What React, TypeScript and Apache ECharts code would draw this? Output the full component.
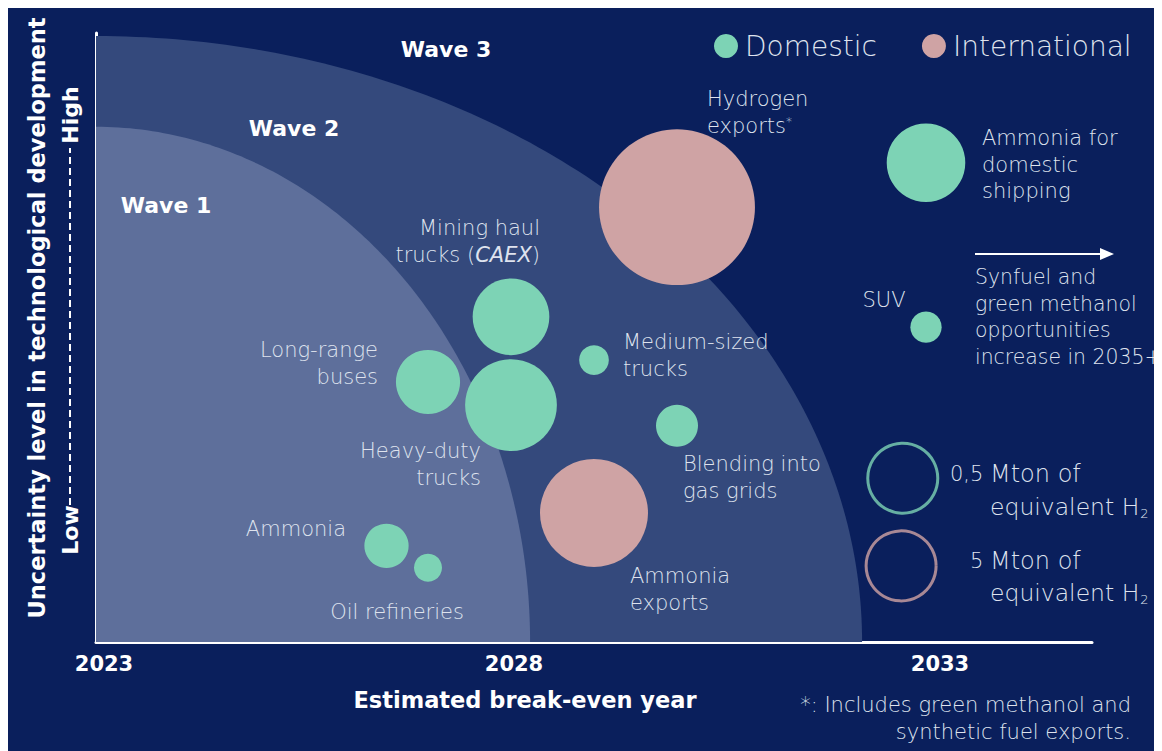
import React, { useEffect, useRef } from "react";
import * as echarts from "echarts";

// ---------- data ----------
const domesticNames = [
  "Ammonia for domestic shipping",
  "SUV",
  "Mining haul trucks (CAEX)",
  "Heavy-duty trucks",
  "Long-range buses",
  "Medium-sized trucks",
  "Blending into gas grids",
  "Ammonia",
  "Oil refineries",
];
const domesticYear = [2033, 2033, 2028, 2028, 2027, 2029, 2030, 2026.5, 2027];
const domesticUncertainty = [78.7, 51.7, 53.4, 38.9, 42.7, 46.3, 35.5, 15.8, 12.2];
const domesticMton = [0.63, 0.1, 0.6, 0.86, 0.42, 0.09, 0.18, 0.2, 0.08];

const internationalNames = ["Hydrogen exports", "Ammonia exports"];
const internationalYear = [2030, 2029];
const internationalUncertainty = [71.4, 21.2];
const internationalMton = [24.8, 11.9];

// size key (legend circles)
const sizeKeyMton = [0.5, 5];
const sizeKeyYear = [2032.72, 2032.7];
const sizeKeyUncertainty = [26.9, 12.5];

// waves: break-even year reached at zero uncertainty, uncertainty reached at 2023
const waveNames = ["Wave 2", "Wave 1"];
const waveYearEnd = [2032.23, 2028.23];
const waveTop = [99.5, 84.6];

const xTickYears = [2023, 2028, 2033];

// ---------- styles ----------
const BG = "#0a1f5c";
const TEAL = "#7dd3b5";
const PINK = "#cfa3a4";
const WAVE_COLORS = ["#34497c", "#5e6f9b"];
const LABEL = "#dfe3ee";
const LIGHT = "DejaVu Sans";
const BOLD = "DejaVu Sans";
const LS = 21;
const LW = 200;

const domesticSize = (v: number) => 70 * Math.sqrt(v / 0.5);
const internationalSize = (v: number) => 70 * Math.sqrt(v / 5);

function txt(text: string, x: number, y: number, align: string, extra: any = {}) {
  return {
    type: "text",
    x,
    y,
    z: 100,
    silent: true,
    style: {
      text,
      fill: LABEL,
      fontFamily: LIGHT,
      fontSize: LS,
      fontWeight: LW,
      align,
      verticalAlign: "top",
      lineHeight: 26.5,
      ...extra,
    },
  };
}

function boldTxt(text: string, x: number, y: number, size: number, rotation = 0) {
  return {
    type: "text",
    x,
    y,
    z: 100,
    rotation,
    silent: true,
    style: {
      text,
      fill: "#ffffff",
      fontFamily: BOLD,
      fontWeight: "bold",
      fontSize: size,
      align: "center",
      verticalAlign: "middle",
    },
  };
}

export default function App() {
  const ref = useRef<HTMLDivElement>(null);

  useEffect(() => {
    document.body.style.overflow = "hidden";
    const chart = echarts.init(ref.current!, null, { renderer: "svg" });

    const waveData = waveNames.map((n, i) => ({
      name: n,
      value: [waveYearEnd[i], waveTop[i]],
    }));

    const subRich = {
      sub: { fontSize: 13, fontFamily: LIGHT, fontWeight: LW, fill: LABEL, padding: [13, 0, 0, 1] },
    };

    const yearRich = (pad: number) => ({
      padding: [0, 0, 0, pad],
      color: "#fff",
      fontFamily: BOLD,
      fontWeight: "bold",
      fontSize: 21,
    });

    const option: any = {
      animation: false,
      backgroundColor: BG,
      grid: { left: 88, right: 70, top: 25, bottom: 109 },
      legend: {
        data: ["Domestic", "International"],
        left: 701,
        top: 19,
        icon: "circle",
        itemWidth: 24,
        itemHeight: 24,
        itemGap: 45,
        textStyle: {
          color: LABEL,
          fontFamily: LIGHT,
          fontWeight: LW,
          fontSize: 28,
          padding: [0, 0, 0, 2],
        },
      },
      xAxis: {
        type: "value",
        min: 2023,
        max: 2035,
        axisLine: { show: true, lineStyle: { color: "#ffffff", width: 3 } },
        axisTick: { show: false },
        splitLine: { show: false },
        axisLabel: {
          customValues: xTickYears,
          margin: 11,
          color: "#ffffff",
          fontFamily: BOLD,
          fontWeight: "bold",
          fontSize: 21,
          formatter: (v: number) => `{y${v}|${v}}`,
          rich: {
            y2023: yearRich(16),
            y2028: yearRich(6),
            y2033: yearRich(28),
          },
        },
      },
      yAxis: {
        type: "value",
        min: 0,
        max: 100,
        axisLine: { show: true, lineStyle: { color: "#ffffff", width: 3 } },
        axisTick: { show: false },
        axisLabel: { show: false },
        splitLine: { show: false },
      },
      series: [
        {
          type: "custom",
          name: "Waves",
          silent: true,
          z: 1,
          data: waveData,
          renderItem: (params: any, api: any) => {
            const o = api.coord([2023, 0]);
            const ex = api.coord([api.value(0), 0])[0];
            const ey = api.coord([2023, api.value(1)])[1];
            const rx = ex - o[0];
            const ry = o[1] - ey;
            const pts: number[][] = [[o[0], o[1]]];
            const N = 120;
            for (let k = 0; k <= N; k++) {
              const t = (k / N) * (Math.PI / 2);
              pts.push([o[0] + rx * Math.cos(t), o[1] - ry * Math.sin(t)]);
            }
            return {
              type: "polygon",
              shape: { points: pts },
              style: { fill: WAVE_COLORS[params.dataIndex] },
            };
          },
        },
        {
          type: "scatter",
          name: "Domestic",
          z: 3,
          itemStyle: { color: TEAL, opacity: 1 },
          symbolSize: (val: number[]) => domesticSize(val[2]),
          data: domesticNames.map((n, i) => ({
            name: n,
            value: [domesticYear[i], domesticUncertainty[i], domesticMton[i]],
          })),
        },
        {
          type: "scatter",
          name: "International",
          z: 3,
          itemStyle: { color: PINK, opacity: 1 },
          symbolSize: (val: number[]) => internationalSize(val[2]),
          data: internationalNames.map((n, i) => ({
            name: n,
            value: [internationalYear[i], internationalUncertainty[i], internationalMton[i]],
          })),
        },
        {
          type: "scatter",
          name: "Size key",
          z: 3,
          silent: true,
          data: sizeKeyMton.map((m, i) => ({
            name: `${m} Mton`,
            value: [sizeKeyYear[i], sizeKeyUncertainty[i], m],
            symbolSize: i === 0 ? domesticSize(m) : internationalSize(m),
            itemStyle: {
              color: "rgba(0,0,0,0)",
              borderColor: i === 0 ? TEAL : PINK,
              borderWidth: 3,
            },
          })),
        },
      ],
      graphic: [
        // wave titles
        boldTxt("Wave 3", 438, 41, 22),
        boldTxt("Wave 2", 286, 120, 22),
        boldTxt("Wave 1", 158, 197, 22),
        // bubble labels
        txt("Hydrogen\nexports{s|*}", 699, 78, "left", {
          rich: { s: { fontSize: 12, fontFamily: LIGHT, fontWeight: LW, fill: LABEL, padding: [0, 0, 8, 0] } },
        }),
        txt("Ammonia for\ndomestic\nshipping", 974, 117, "left"),
        txt("Synfuel and\ngreen methanol\nopportunities\nincrease in 2035+", 967, 256, "left", { fontSize: 20.4 }),
        txt("SUV", 876, 292, "center", { verticalAlign: "middle" }),
        txt("Mining haul\ntrucks ({i|CAEX})", 532, 207, "right", {
          rich: { i: { fontStyle: "italic", fontFamily: LIGHT, fontWeight: LW, fontSize: LS, fill: LABEL } },
        }),
        txt("Long-range\nbuses", 370, 329, "right"),
        txt("Medium-sized\ntrucks", 615, 321, "left"),
        txt("Heavy-duty\ntrucks", 473, 430, "right"),
        txt("Blending into\ngas grids", 675, 443, "left"),
        txt("Ammonia", 338, 521, "right", { verticalAlign: "middle" }),
        txt("Oil refineries", 389, 604, "center", { verticalAlign: "middle" }),
        txt("Ammonia\nexports", 622, 555, "left"),
        // size key labels
        txt("0,5", 942, 466, "left", { verticalAlign: "middle" }),
        txt("Mton of", 982, 466, "left", { verticalAlign: "middle", fontSize: 24 }),
        txt("equivalent H{sub|2}", 982, 499, "left", { verticalAlign: "middle", fontSize: 23.5, rich: subRich }),
        txt("5", 962, 553, "left", { verticalAlign: "middle" }),
        txt("Mton of", 982, 553, "left", { verticalAlign: "middle", fontSize: 24 }),
        txt("equivalent H{sub|2}", 982, 585, "left", { verticalAlign: "middle", fontSize: 23.5, rich: subRich }),
        // arrow
        {
          type: "line",
          z: 100,
          silent: true,
          shape: { x1: 967, y1: 246, x2: 1094, y2: 246 },
          style: { stroke: "#ffffff", lineWidth: 2 },
        },
        {
          type: "polygon",
          z: 100,
          silent: true,
          shape: { points: [[1092, 240], [1106, 246], [1092, 252]] },
          style: { fill: "#ffffff" },
        },
        // axis titles
        boldTxt("Estimated break-even year", 517, 692, 22.5),
        boldTxt("Uncertainty level in technological development", 29, 310, 22.5, Math.PI / 2),
        boldTxt("Low", 62, 522, 22, Math.PI / 2),
        boldTxt("High", 62, 107, 22, Math.PI / 2),
        {
          type: "line",
          z: 100,
          silent: true,
          shape: { x1: 62, y1: 497, x2: 62, y2: 140 },
          style: { stroke: "#ffffff", lineWidth: 2, lineDash: [7, 4] },
        },
        // footnote
        txt("*: Includes green methanol and\nsynthetic fuel exports.", 1123, 683, "right", { lineHeight: 27 }),
      ],
    };

    chart.setOption(option);
    return () => {
      chart.dispose();
    };
  }, []);

  return <div ref={ref} style={{ width: 1154, height: 743 }} />;
}
